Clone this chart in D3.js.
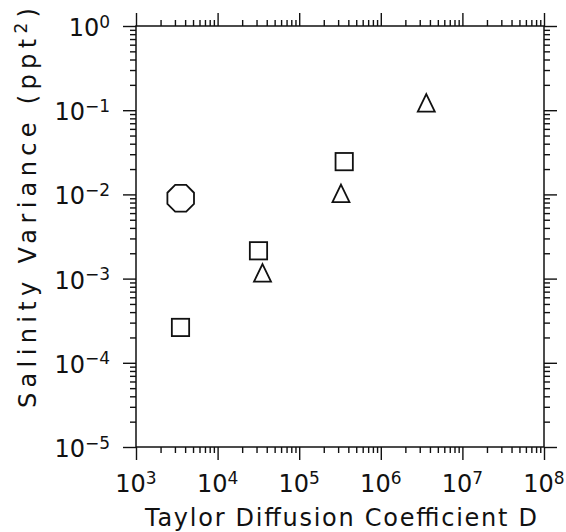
<!DOCTYPE html>
<html>
<head>
<meta charset="utf-8">
<script src="https://cdn.jsdelivr.net/npm/d3@7"></script>
<style>
  html, body { margin: 0; padding: 0; background: #fff; }
  svg { display: block; }
  text { font-family: "DejaVu Sans", "Liberation Sans", Arial, sans-serif; fill: #111; }
</style>
</head>
<body>
<script>
// Salinity variance against Taylor diffusion coefficient D (log–log)
const octagonD   = [3.53e3];
const octagonVar = [9.0e-3];

const squareD    = [3.51e3, 3.17e4, 3.56e5];
const squareVar  = [2.63e-4, 2.14e-3, 2.45e-2];

const triangleD   = [3.55e4, 3.25e5, 3.61e6];
const triangleVar = [1.17e-3, 1.03e-2, 1.22e-1];

const xExponents = [3, 4, 5, 6, 7, 8];
const yExponents = [0, -1, -2, -3, -4, -5];

const xTitle = "Taylor Diffusion Coefficient D";
const yTitle = "Salinity Variance (ppt";
const yTitleSup = "2";

const W = 566, H = 532;
const plotL = 136, plotR = 544, plotT = 26, plotB = 447;
const majorLen = 13, minorLen = 6;
const ink = "#111";

const svg = d3.select("body").append("svg")
  .attr("width", W).attr("height", H)
  .attr("viewBox", `0 0 ${W} ${H}`);

svg.append("rect").attr("width", W).attr("height", H).attr("fill", "#fff");

const x = d3.scaleLog().domain([1e3, 1e8]).range([plotL, plotR]);
const y = d3.scaleLog().domain([1e-5, 1e0]).range([plotB, plotT]);

// major and minor tick values for each decade
function ticksFor(exps) {
  const lo = d3.min(exps), hi = d3.max(exps);
  const major = d3.range(lo, hi + 1).map(e => Math.pow(10, e));
  const minor = [];
  for (let e = lo; e < hi; e++) {
    for (let m = 2; m <= 9; m++) minor.push(m * Math.pow(10, e));
  }
  return { major, minor };
}
const xt = ticksFor(xExponents);
const yt = ticksFor(yExponents);

// Draw an axis with outward ticks, labels suppressed
function drawAxis(axisFn, scale, transform, t) {
  const gMinor = svg.append("g").attr("transform", transform)
    .call(axisFn(scale).tickValues(t.minor).tickSize(minorLen).tickFormat(""));
  const gMajor = svg.append("g").attr("transform", transform)
    .call(axisFn(scale).tickValues(t.major).tickSize(majorLen).tickFormat(""));
  [gMinor, gMajor].forEach(g => {
    g.select(".domain").remove();
    g.selectAll(".tick line").attr("stroke", ink).attr("stroke-width", 1.4);
  });
}
drawAxis(d3.axisBottom, x, `translate(0,${plotB})`, xt);
drawAxis(d3.axisTop,    x, `translate(0,${plotT})`, xt);
drawAxis(d3.axisLeft,   y, `translate(${plotL},0)`, yt);
drawAxis(d3.axisRight,  y, `translate(${plotR},0)`, yt);

// frame
svg.append("rect")
  .attr("x", plotL).attr("y", plotT)
  .attr("width", plotR - plotL).attr("height", plotB - plotT)
  .attr("fill", "none").attr("stroke", ink).attr("stroke-width", 1.5);

// x tick labels: 10^n
xExponents.forEach(e => {
  const t = svg.append("text")
    .attr("x", x(Math.pow(10, e))).attr("y", 492)
    .attr("text-anchor", "middle")
    .attr("font-size", 24);
  t.append("tspan").text("10");
  t.append("tspan").attr("dy", -8.5).attr("font-size", 17).text(String(e));
});

// y tick labels: 10^n
yExponents.forEach(e => {
  const t = svg.append("text")
    .attr("x", 110).attr("y", y(Math.pow(10, e)) + 10)
    .attr("text-anchor", "end")
    .attr("font-size", 24);
  t.append("tspan").text("10");
  t.append("tspan").attr("dy", -8.5).attr("font-size", 17)
    .text(e < 0 ? "\u2212" + Math.abs(e) : String(e));
});

// axis titles
svg.append("text")
  .attr("x", (plotL + plotR) / 2 + 1).attr("y", 526)
  .attr("text-anchor", "middle")
  .attr("font-size", 24)
  .attr("textLength", 392).attr("lengthAdjust", "spacing")
  .text(xTitle);

const yTitleText = svg.append("text")
  .attr("transform", `translate(36,${208}) rotate(-90)`)
  .attr("text-anchor", "middle")
  .attr("font-size", 24)
  .attr("textLength", 400).attr("lengthAdjust", "spacing");
yTitleText.append("tspan").text(yTitle);
yTitleText.append("tspan").attr("dy", -9).attr("font-size", 17).text(yTitleSup);
yTitleText.append("tspan").attr("dy", 9).text(")");

// markers
const markG = svg.append("g")
  .attr("fill", "none").attr("stroke", ink).attr("stroke-width", 1.8)
  .attr("stroke-linejoin", "miter");

// octagon with flat sides, apothem 13.3
const apo = 13.3, circR = apo / Math.cos(Math.PI / 8);
const octPts = d3.range(8).map(k => {
  const a = Math.PI / 8 + k * Math.PI / 4;
  return [circR * Math.cos(a), circR * Math.sin(a)];
});
markG.selectAll(".oct").data(d3.zip(octagonD, octagonVar)).join("polygon")
  .attr("class", "oct")
  .attr("transform", d => `translate(${x(d[0])},${y(d[1])})`)
  .attr("points", octPts.map(p => p.join(",")).join(" "));

const sq = 17.3;
markG.selectAll(".sq").data(d3.zip(squareD, squareVar)).join("rect")
  .attr("class", "sq")
  .attr("x", d => x(d[0]) - sq / 2).attr("y", d => y(d[1]) - sq / 2)
  .attr("width", sq).attr("height", sq);

const tw = 17, th = 17.5;
const triPts = [[0, -th / 2], [tw / 2, th / 2], [-tw / 2, th / 2]];
markG.selectAll(".tri").data(d3.zip(triangleD, triangleVar)).join("polygon")
  .attr("class", "tri")
  .attr("transform", d => `translate(${x(d[0])},${y(d[1])})`)
  .attr("points", triPts.map(p => p.join(",")).join(" "));
</script>
</body>
</html>
